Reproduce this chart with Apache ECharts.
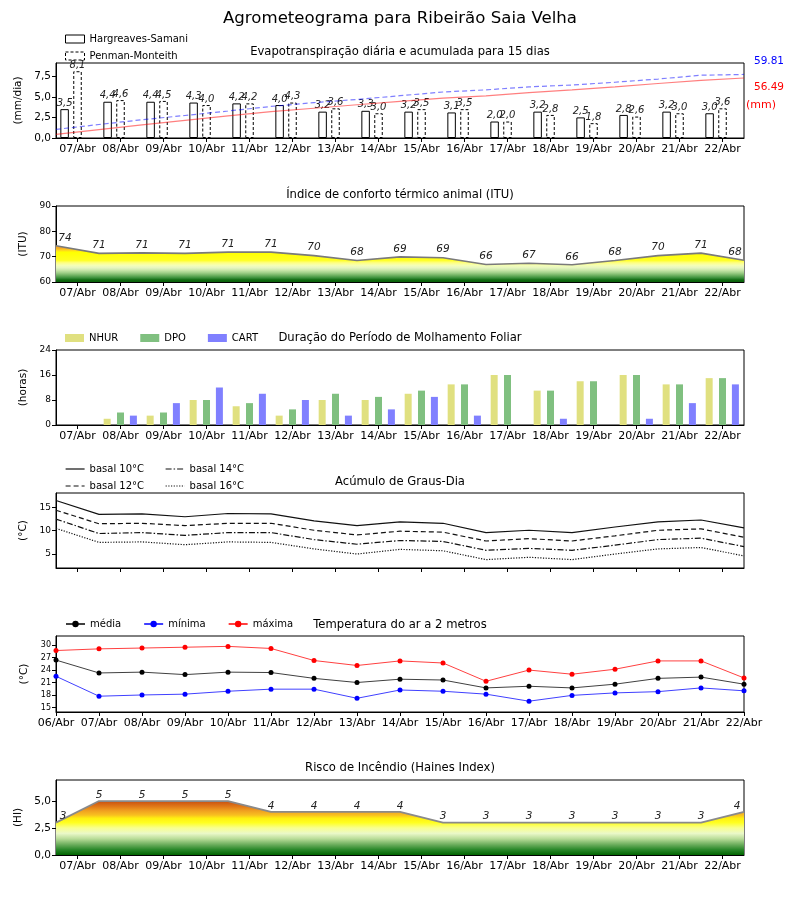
<!DOCTYPE html>
<html><head><meta charset="utf-8">
<script src="https://cdn.jsdelivr.net/npm/echarts@6/dist/echarts.min.js"></script>
<style>html,body{margin:0;padding:0;background:#fff}#c{width:800px;height:900px}</style>
</head><body><div id="c"></div>
<script>
// ---------- DATA ----------
const days = ['06/Abr','07/Abr','08/Abr','09/Abr','10/Abr','11/Abr','12/Abr','13/Abr','14/Abr','15/Abr','16/Abr','17/Abr','18/Abr','19/Abr','20/Abr','21/Abr','22/Abr'];
const dayLabels = days.slice(1); // daily tick labels (07/Abr .. 22/Abr)
const etHS = [3.5,4.4,4.4,4.3,4.2,4.0,3.2,3.3,3.2,3.1,2.0,3.2,2.5,2.8,3.2,3.0];
const etPM = [8.1,4.6,4.5,4.0,4.2,4.3,3.6,3.0,3.5,3.5,2.0,2.8,1.8,2.6,3.0,3.6];
const cumHS = [3.5,7.9,12.3,16.6,20.8,24.8,28.0,31.3,34.5,37.6,39.6,42.8,45.3,48.1,51.3,54.3,56.49];
const cumPM = [8.1,12.7,17.2,21.2,25.4,29.7,33.3,36.3,39.8,43.3,45.3,48.1,49.9,52.5,55.5,59.1,59.81];
const itu = [74.3,71.3,71.5,71.3,71.8,71.8,70.4,68.5,69.9,69.6,66.9,67.4,66.8,68.5,70.4,71.4,68.6];
const nhur = [0,2,3,8,6,3,8,8,10,13,16,11,14,16,13,15];
const dpo  = [0,4,4,8,7,5,10,9,11,13,16,11,14,16,13,15];
const cart = [0,3,7,12,10,8,3,5,9,3,0,2,0,2,7,13];
const gd10 = [16.5,13.5,13.6,13.0,13.7,13.6,12.1,11.1,11.9,11.6,9.6,10.1,9.6,10.8,11.9,12.3,10.6];
const gd12 = [14.4,11.5,11.6,11.1,11.6,11.6,10.1,9.1,9.9,9.7,7.8,8.3,7.8,8.9,10.1,10.4,8.6];
const gd14 = [12.5,9.4,9.6,9.0,9.6,9.6,8.1,7.1,7.9,7.7,5.8,6.2,5.8,6.9,8.1,8.4,6.6];
const gd16 = [10.5,7.5,7.6,7.0,7.6,7.5,6.1,5.0,6.0,5.7,3.8,4.3,3.8,5.0,6.1,6.4,4.6];
const tMed = [26.4,23.3,23.5,22.9,23.5,23.4,22.0,21.0,21.8,21.6,19.7,20.1,19.7,20.6,22.0,22.3,20.6];
const tMin = [22.5,17.7,18.0,18.2,18.9,19.4,19.4,17.2,19.2,18.9,18.2,16.5,17.9,18.5,18.8,19.7,19.0];
const tMax = [28.7,29.1,29.3,29.5,29.7,29.2,26.3,25.1,26.2,25.7,21.3,24.0,23.0,24.2,26.2,26.2,22.1];
const haines = [3,5,5,5,5,4,4,4,4,3,3,3,3,3,3,3,4];
const etTicks = [0,2.5,5,7.5];
const ituTicks = [60,70,80,90];
const wetTicks = [0,8,16,24];
const gdTicks = [5,10,15];
const tTicks = [15,18,21,24,27,30];
const hiTicks = [0,2.5,5];

// ---------- LAYOUT / STYLE ----------
const FF = 'DejaVu Sans';
const L = 56, R = 56;
const G = [{top:63,h:75},{top:206,h:76},{top:350,h:75},{top:493,h:75},{top:636,h:76},{top:780,h:75}];
const comma = v => v.toFixed(1).replace('.', ',');
const midTicks = dayLabels.map((d,i)=>i+0.5);
const dayTicks = days.map((d,i)=>i);

const grid = G.map(g=>({left:L, right:R, top:g.top, height:g.h, show:true, borderColor:'#000', borderWidth:1, backgroundColor:'transparent'}));

function xAx(gi, ticks, labels, fmt){
  return {type:'value', gridIndex:gi, min:0, max:16,
    axisLine:{show:true, lineStyle:{color:'#000', width:1}},
    axisTick:{show:true, customValues:ticks, length:4, lineStyle:{color:'#000'}},
    axisLabel:{show:labels, customValues:ticks, formatter:fmt, color:'#000', fontFamily:FF, fontSize:11, margin:6},
    splitLine:{show:false}};
}
function yAx(gi, min, max, ticks, fmt, name, gap, fs){
  return {type:'value', gridIndex:gi, min:min, max:max,
    name:name, nameLocation:'middle', nameGap:gap, nameRotate:90,
    nameTextStyle:{color:'#000', fontFamily:FF, fontSize:10.5},
    axisLine:{show:true, lineStyle:{color:'#000', width:1}},
    axisTick:{show:true, customValues:ticks, length:4, lineStyle:{color:'#000'}},
    axisLabel:{customValues:ticks, formatter:fmt, color:'#000', fontFamily:FF, fontSize:fs, margin:5},
    splitLine:{show:false}};
}
const fmtMid = v => dayLabels[Math.round(v-0.5)];
const fmtDay = v => days[Math.round(v)];

function vgrad(gi, vmin, vmax, stops){
  const top = G[gi].top, bot = G[gi].top + G[gi].h;
  return new echarts.graphic.LinearGradient(0, bot, 0, top,
    stops.map(s=>({offset:(s[0]-vmin)/(vmax-vmin), color:s[1]})), true);
}

const ituGrad = vgrad(1, 60, 90, [
  [60,'#0a600a'],[60.8,'#106a10'],[61.6,'#3a8f3a'],[62.6,'#6eb060'],[63.6,'#9fcf88'],
  [64.6,'#c8e6a8'],[65.6,'#e6f5c0'],[66.6,'#f5ffb5'],[67.6,'#ffff80'],[68.6,'#ffff20'],
  [71.8,'#ffff00'],[72.6,'#ffd020'],[73.4,'#f2a828'],[90,'#f0a020']]);
const hiGrad = vgrad(5, 0, 6.95, [
  [0,'#006400'],[0.5,'#2a882a'],[1.0,'#70b060'],[1.5,'#b8dc98'],[2.0,'#eaf8c8'],
  [2.5,'#f8ff90'],[3.0,'#ffff20'],[3.4,'#fff010'],[3.7,'#f8c020'],[4.1,'#f0a020'],
  [4.5,'#e07818'],[5.0,'#c85010'],[6.95,'#c04808']]);

const titleStyle = {color:'#000', fontFamily:FF, fontSize:11.6, fontWeight:'normal'};
const titles = [
  {text:'Agrometeograma para Ribeirão Saia Velha', left:'center', top:10, padding:0,
   textStyle:{color:'#000', fontFamily:FF, fontSize:16.6, fontWeight:'normal'}},
  {text:'Evapotranspiração diária e acumulada para 15 dias', cy:51},
  {text:'Índice de conforto térmico animal (ITU)', cy:194},
  {text:'Duração do Período de Molhamento Foliar', cy:337},
  {text:'Acúmulo de Graus-Dia', cy:481},
  {text:'Temperatura do ar a 2 metros', cy:624},
  {text:'Risco de Incêndio (Haines Index)', cy:767}
].map((t,i)=> i===0 ? t : {text:t.text, left:'center', top:t.cy-5, padding:0, textStyle:titleStyle});

const legText = {color:'#000', fontFamily:FF, fontSize:10};
const hideSym = {opacity:0};
const legends = [
  {left:65, top:34, orient:'vertical', itemWidth:19, itemHeight:8, itemGap:7, padding:0, textStyle:legText,
   data:[{name:'Hargreaves-Samani', icon:'rect', itemStyle:{color:'#fff', borderColor:'#000', borderWidth:1, borderType:'solid'}},
         {name:'Penman-Monteith', icon:'rect', itemStyle:{color:'#fff', borderColor:'#000', borderWidth:1, borderType:[3,2]}}]},
  {left:65, top:333, orient:'horizontal', itemWidth:19, itemHeight:8, itemGap:22, padding:0, textStyle:legText,
   data:[{name:'NHUR', icon:'rect'},{name:'DPO', icon:'rect'},{name:'CART', icon:'rect'}]},
  {left:65, top:464, orient:'vertical', itemWidth:19, itemHeight:8, itemGap:7, padding:0, textStyle:legText,
   itemStyle:hideSym, lineStyle:{width:1.2},
   data:['basal 10°C','basal 12°C']},
  {left:165, top:464, orient:'vertical', itemWidth:19, itemHeight:8, itemGap:7, padding:0, textStyle:legText,
   itemStyle:hideSym, lineStyle:{width:1.2},
   data:['basal 14°C','basal 16°C']},
  {left:65, top:619, orient:'horizontal', itemWidth:19, itemHeight:8, itemGap:22, padding:0, textStyle:legText,
   data:['média','mínima','máxima']}
];

const barLbl = {show:true, position:'top', distance:1, fontStyle:'italic', fontFamily:FF, fontSize:10, color:'#222',
  formatter:p=>comma(p.value[1])};
const intLbl = (dist)=>({show:true, position:'top', distance:dist, fontStyle:'italic', fontFamily:FF, fontSize:10.5, color:'#222',
  formatter:p=>String(Math.floor(p.value[1]+1e-9))});
function edgeShift(arr, dx){
  return arr.map((v,i)=>{
    const d = {value:[i, v]};
    if (i===0) d.label = {offset:[dx,0]};
    if (i===arr.length-1) d.label = {offset:[-dx,0]};
    return d;
  });
}

const series = [
  // Panel 1: ET
  {name:'Hargreaves-Samani', type:'bar', xAxisIndex:0, yAxisIndex:0, barWidth:8.5, barGap:'-100%',
   data:etHS.map((v,i)=>[i+0.2, v]),
   itemStyle:{color:'#fff', borderColor:'#000', borderWidth:1, borderType:'solid'}, label:barLbl, z:3},
  {name:'Penman-Monteith', type:'bar', xAxisIndex:0, yAxisIndex:0, barWidth:8.5, barGap:'-100%',
   data:etPM.map((v,i)=>[i+0.5, v]),
   itemStyle:{color:'#fff', borderColor:'#000', borderWidth:1, borderType:[3,2]}, label:barLbl, z:3},
  {name:'acumHS', type:'line', xAxisIndex:0, yAxisIndex:1, data:cumHS.map((v,i)=>[i,v]), symbol:'none',
   lineStyle:{color:'rgba(255,0,0,0.5)', width:1.2}, z:4, silent:true},
  {name:'acumPM', type:'line', xAxisIndex:0, yAxisIndex:1, data:cumPM.map((v,i)=>[i,v]), symbol:'none',
   lineStyle:{color:'rgba(0,0,255,0.5)', width:1.2, type:[5,3]}, z:4, silent:true},
  // Panel 2: ITU
  {name:'ITU', type:'line', xAxisIndex:1, yAxisIndex:2, data:edgeShift(itu, 9), symbol:'circle', symbolSize:1, showSymbol:true,
   itemStyle:{color:'rgba(0,0,0,0)'},
   lineStyle:{color:'#7a7a7a', width:1.6}, areaStyle:{color:ituGrad, opacity:1, origin:'start'},
   label:intLbl(2), z:3},
  // Panel 3: wetness
  {name:'NHUR', type:'bar', xAxisIndex:2, yAxisIndex:3, barWidth:7, barGap:'-100%',
   data:nhur.map((v,i)=>[i+0.19, v]), itemStyle:{color:'#e0e080'}},
  {name:'DPO', type:'bar', xAxisIndex:2, yAxisIndex:3, barWidth:7, barGap:'-100%',
   data:dpo.map((v,i)=>[i+0.5, v]), itemStyle:{color:'#80c080'}},
  {name:'CART', type:'bar', xAxisIndex:2, yAxisIndex:3, barWidth:7, barGap:'-100%',
   data:cart.map((v,i)=>[i+0.8, v]), itemStyle:{color:'#8080ff'}},
  // Panel 4: degree days
  {name:'basal 10°C', type:'line', xAxisIndex:3, yAxisIndex:4, data:gd10.map((v,i)=>[i,v]), symbol:'none',
   itemStyle:{color:'#000'}, lineStyle:{color:'#111', width:1.2, type:'solid'}},
  {name:'basal 12°C', type:'line', xAxisIndex:3, yAxisIndex:4, data:gd12.map((v,i)=>[i,v]), symbol:'none',
   itemStyle:{color:'#000'}, lineStyle:{color:'#111', width:1.2, type:[5,3]}},
  {name:'basal 14°C', type:'line', xAxisIndex:3, yAxisIndex:4, data:gd14.map((v,i)=>[i,v]), symbol:'none',
   itemStyle:{color:'#000'}, lineStyle:{color:'#111', width:1.2, type:[6,2,1.5,2]}},
  {name:'basal 16°C', type:'line', xAxisIndex:3, yAxisIndex:4, data:gd16.map((v,i)=>[i,v]), symbol:'none',
   itemStyle:{color:'#000'}, lineStyle:{color:'#111', width:1.2, type:[1.2,1.5]}},
  // Panel 5: temperature
  {name:'média', type:'line', xAxisIndex:4, yAxisIndex:5, data:tMed.map((v,i)=>[i,v]), symbol:'circle', symbolSize:5,
   itemStyle:{color:'#000'}, lineStyle:{color:'rgba(0,0,0,0.75)', width:1}},
  {name:'mínima', type:'line', xAxisIndex:4, yAxisIndex:5, data:tMin.map((v,i)=>[i,v]), symbol:'circle', symbolSize:5,
   itemStyle:{color:'#0000ff'}, lineStyle:{color:'rgba(0,0,255,0.75)', width:1}},
  {name:'máxima', type:'line', xAxisIndex:4, yAxisIndex:5, data:tMax.map((v,i)=>[i,v]), symbol:'circle', symbolSize:5,
   itemStyle:{color:'#ff0000'}, lineStyle:{color:'rgba(255,0,0,0.75)', width:1}},
  // Panel 6: Haines
  {name:'HI', type:'line', xAxisIndex:5, yAxisIndex:6, data:edgeShift(haines, 7), symbol:'circle', symbolSize:1, showSymbol:true,
   itemStyle:{color:'rgba(0,0,0,0)'},
   lineStyle:{color:'#8a8a8a', width:1.8}, areaStyle:{color:hiGrad, opacity:1, origin:'start'},
   label:intLbl(0), z:3}
];

const option = {
  animation:false,
  backgroundColor:'#fff',
  textStyle:{fontFamily:FF},
  title:titles,
  legend:legends,
  grid:grid,
  xAxis:[
    xAx(0, midTicks, true, fmtMid),
    xAx(1, midTicks, true, fmtMid),
    xAx(2, midTicks, true, fmtMid),
    xAx(3, midTicks, false, fmtMid),
    xAx(4, dayTicks, true, fmtDay),
    xAx(5, midTicks, true, fmtMid)
  ],
  yAxis:[
    yAx(0, 0, 9.1, etTicks, comma, '(mm/dia)', 31, 10.5),
    {type:'value', gridIndex:0, min:0, max:70.6, show:false, splitLine:{show:false}},
    yAx(1, 60, 90, ituTicks, v=>String(v), '(ITU)', 24, 9),
    yAx(2, 0, 24, wetTicks, v=>String(v), '(horas)', 26, 9),
    yAx(3, 2, 18.1, gdTicks, v=>String(v), '(°C)', 25, 9),
    yAx(4, 13.9, 32.2, tTicks, v=>String(v), '(°C)', 24, 8),
    yAx(5, 0, 6.95, hiTicks, comma, '(HI)', 31, 10.5)
  ],
  series:series,
  graphic:[
    {type:'text', style:{text:cumPM[cumPM.length-1].toFixed(2), x:769, y:61, fill:'#0000ff', font:'10.5px "DejaVu Sans"', align:'center', verticalAlign:'middle'}},
    {type:'text', style:{text:cumHS[cumHS.length-1].toFixed(2), x:769, y:87, fill:'#ff0000', font:'10.5px "DejaVu Sans"', align:'center', verticalAlign:'middle'}},
    {type:'text', style:{text:'(mm)', x:761, y:105, fill:'#ff0000', font:'11px "DejaVu Sans"', align:'center', verticalAlign:'middle'}}
  ]
};
const chart = echarts.init(document.getElementById('c'));
chart.setOption(option);
</script>
</body></html>
